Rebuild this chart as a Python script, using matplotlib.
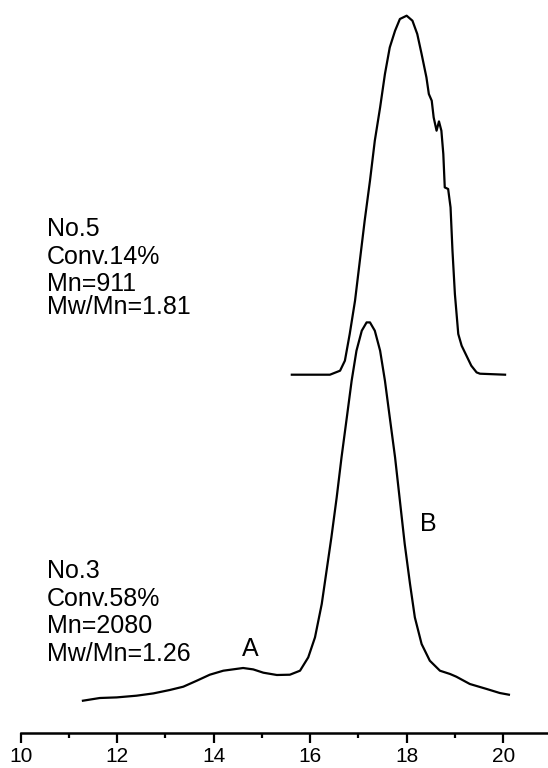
import numpy as np
import matplotlib
matplotlib.use("Agg")
import matplotlib.pyplot as plt
from matplotlib.ticker import MultipleLocator

plt.rcParams['font.family'] = ['Liberation Sans', 'DejaVu Sans']

#### traza No.5 (arriba, desplazada)
vol5 = [15.62, 16.41, 16.62, 16.72, 16.82, 16.93, 17.03, 17.13, 17.24, 17.34,
        17.45, 17.55, 17.65, 17.76, 17.86, 18.00, 18.12, 18.22, 18.31, 18.41,
        18.46, 18.52, 18.56, 18.62, 18.67, 18.72, 18.76, 18.79, 18.86, 18.91,
        18.95, 19.00, 19.07, 19.14, 19.24, 19.34, 19.45, 19.52, 20.04]
resp5 = [358, 358, 362, 372, 398.7, 432, 472, 512, 552, 592,
         625.3, 658.7, 685.3, 702, 713.7, 717, 712, 698.7, 678.7, 655.3,
         638.7, 632, 615.3, 602, 611.3, 602, 578.7, 545.3, 543.7, 525.3,
         482, 438.7, 398.7, 387, 377, 367, 360.3, 359, 358]

#### traza No.3 (abajo)
vol3 = [11.29, 11.64, 11.99, 12.40, 12.75, 13.09, 13.37, 13.65, 13.92, 14.20,
        14.61, 14.82, 15.03, 15.31, 15.58, 15.79, 15.96, 16.10, 16.24, 16.34,
        16.44, 16.55, 16.65, 16.76, 16.86, 16.96, 17.07, 17.17, 17.24, 17.34,
        17.45, 17.55, 17.65, 17.76, 17.86, 17.96, 18.07, 18.17, 18.31, 18.48,
        18.69, 18.90, 19.03, 19.31, 19.66, 19.93, 20.12]
resp3 = [32, 34.7, 35.3, 37, 39.3, 42.7, 46, 52, 58, 62,
         64.7, 63.3, 60, 57.7, 58, 62, 75.3, 95.3, 128.7, 162,
         195.3, 235.3, 275.3, 315.3, 352, 382, 402, 410.3, 410.3, 402,
         382, 352, 315.3, 275.3, 232, 188.7, 148.7, 115.3, 88.7, 72,
         62, 58.7, 56, 48.7, 43.7, 39.7, 38]

labels5 = ["No.5", "Conv.14%", "Mn=911", "Mw/Mn=1.81"]
labels3 = ["No.3", "Conv.58%", "Mn=2080", "Mw/Mn=1.26"]

fig = plt.figure(figsize=(5.48, 7.68), dpi=100)
ax = fig.add_axes([20.7/548, 35.3/768, 1 - 20.7/548, 732.7/768])

ax.plot(vol5, resp5, color="black", lw=1.6, solid_joinstyle="round")
ax.plot(vol3, resp3, color="black", lw=1.6, solid_joinstyle="round")

ax.set_xlim(10, 20.93)
ax.set_ylim(0, 732.7)

for s in ["top", "right", "left"]:
    ax.spines[s].set_visible(False)
ax.spines["bottom"].set_linewidth(1.8)
ax.set_yticks([])
ax.xaxis.set_major_locator(MultipleLocator(2))
ax.xaxis.set_minor_locator(MultipleLocator(1))
ax.tick_params(axis="x", which="major", direction="out", length=7.5, width=1.6,
               labelsize=15, pad=2.5)
ax.tick_params(axis="x", which="minor", direction="out", length=3.8, width=1.6)

for i, t in enumerate(labels5):
    ax.text(10.545, [497, 469, 442, 419][i], t, fontsize=18, va="baseline", ha="left")
for i, t in enumerate(labels3):
    ax.text(10.545, [155, 127, 100, 72][i], t, fontsize=18, va="baseline", ha="left")

ax.text(14.75, 77, "A", fontsize=18, va="baseline", ha="center")
ax.text(18.44, 202, "B", fontsize=18, va="baseline", ha="center")

plt.savefig("out.png", dpi=100)
